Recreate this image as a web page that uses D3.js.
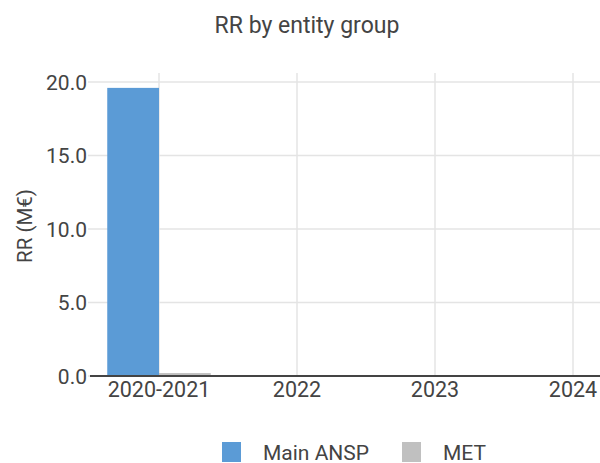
<!DOCTYPE html>
<html>
<head>
    <title>RR by entity group</title>
    <script src="https://d3js.org/d3.v7.min.js"></script>
    <style>
        body { margin: 0; background: #fff; }
        text { font-family: Roboto, sans-serif; fill: #444; }
        .grid line { stroke: #e4e4e4; stroke-width: 1.5; }
    </style>
</head>
<body>
<script>
    // data
    const categories = ["2020-2021", "2022", "2023", "2024"];
    const seriesNames = ["Main ANSP", "MET"];
    const mainAnsp = [19.6, 0, 0, 0];
    const met = [0.2, 0, 0, 0];
    const yTicks = [0, 5, 10, 15, 20];
    const colors = ["#5b9bd6", "#c0c0c0"];

    const width = 600, height = 463;
    const plotLeft = 90, plotTop = 82, plotBottom = 376;
    const step = 138;

    const svg = d3.select("body").append("svg")
        .attr("width", width)
        .attr("height", height);

    const x0 = d3.scaleBand()
        .domain(categories)
        .range([plotLeft, plotLeft + step * categories.length])
        .padding(0);

    const x1 = d3.scaleBand()
        .domain(seriesNames)
        .range([x0.bandwidth() * 0.125, x0.bandwidth() * 0.875])
        .padding(0);

    const y = d3.scaleLinear()
        .domain([0, 20])
        .range([plotBottom, plotTop]);

    // horizontal grid
    svg.append("g").attr("class", "grid")
        .selectAll("line")
        .data(yTicks)
        .enter().append("line")
        .attr("x1", plotLeft - 2).attr("x2", width)
        .attr("y1", d => y(d)).attr("y2", d => y(d));

    // vertical grid at category centers
    svg.append("g").attr("class", "grid")
        .selectAll("line")
        .data(categories)
        .enter().append("line")
        .attr("x1", d => x0(d) + x0.bandwidth() / 2)
        .attr("x2", d => x0(d) + x0.bandwidth() / 2)
        .attr("y1", plotTop - 9).attr("y2", plotBottom);

    // bars
    const rows = categories.map((c, i) => ({ cat: c, vals: [mainAnsp[i], met[i]] }));
    svg.append("g")
        .selectAll("g")
        .data(rows)
        .enter().append("g")
        .attr("transform", d => `translate(${x0(d.cat)},0)`)
        .selectAll("rect")
        .data(d => d.vals.map((v, j) => ({ name: seriesNames[j], v: v, j: j })))
        .enter().append("rect")
        .attr("x", d => x1(d.name))
        .attr("width", x1.bandwidth())
        .attr("y", d => y(d.v))
        .attr("height", d => plotBottom - y(d.v))
        .attr("fill", d => colors[d.j]);

    // y axis
    const yAxis = svg.append("g")
        .attr("transform", `translate(${plotLeft},0)`)
        .call(d3.axisLeft(y).tickValues(yTicks).tickFormat(d3.format(".1f")).tickSize(0).tickPadding(3));
    yAxis.select(".domain").remove();
    yAxis.selectAll("text").style("font-size", "21px").attr("dy", "0.35em");

    // x axis
    const xAxis = svg.append("g")
        .attr("transform", `translate(0,${plotBottom})`)
        .call(d3.axisBottom(x0).tickSize(0).tickPadding(6));
    xAxis.select(".domain").attr("stroke", "#444").attr("stroke-width", 2)
        .attr("d", `M${plotLeft},0H${width}`);
    xAxis.selectAll("text").style("font-size", "21.5px").attr("dy", "0.71em");

    // y label
    svg.append("text")
        .attr("transform", `translate(32,${(plotTop + plotBottom) / 2 - 3}) rotate(-90)`)
        .attr("text-anchor", "middle")
        .style("font-size", "20.5px")
        .text("RR (M\u20ac)");

    // title
    svg.append("text")
        .attr("x", 307).attr("y", 33)
        .attr("text-anchor", "middle")
        .style("font-size", "23px")
        .text("RR by entity group");

    // legend
    const legendX = [222, 402];
    const legend = svg.append("g").selectAll("g")
        .data(seriesNames)
        .enter().append("g")
        .attr("transform", (d, i) => `translate(${legendX[i]},442)`);
    legend.append("rect")
        .attr("width", 19).attr("height", 20)
        .attr("fill", (d, i) => colors[i]);
    legend.append("text")
        .attr("x", 41).attr("y", 18)
        .style("font-size", "21px")
        .text(d => d);
</script>
</body>
</html>
